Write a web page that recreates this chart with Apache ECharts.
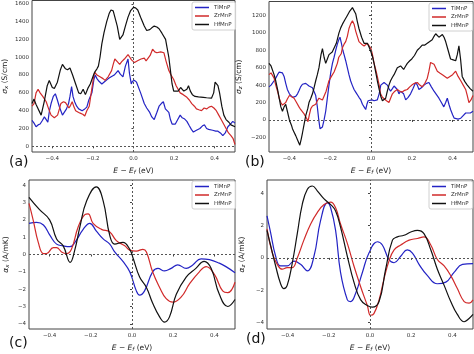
<!DOCTYPE html>
<html>
<head>
<meta charset="utf-8">
<script src="https://cdn.jsdelivr.net/npm/echarts@6/dist/echarts.min.js"></script>
<style>
  html, body { margin: 0; padding: 0; background: #fff; }
  #chart { width: 474px; height: 354px; }
</style>
</head>
<body>
<div id="chart"></div>
<script>
// tick labels
const xTicks = [-0.4, -0.2, 0, 0.2, 0.4];
const yTicksA = [0, 200, 400, 600, 800, 1000, 1200, 1400, 1600];
const yTicksB = [-200, 0, 200, 400, 600, 800, 1000, 1200];
const yTicksC = [-4, -3, -2, -1, 0, 1, 2, 3, 4];
const yTicksD = [-4, -2, 0, 2, 4];
const names = ['TiMnP', 'ZrMnP', 'HfMnP'];

// (a) sigma_x, S/cm  [E - Ef, value]
const aTi = [[-0.5,290],[-0.49,260],[-0.48,220],[-0.47,240],[-0.46,250],[-0.449,290],[-0.439,330],[-0.43,300],[-0.422,270],[-0.414,400],[-0.406,480],[-0.395,560],[-0.385,590],[-0.375,520],[-0.366,450],[-0.358,400],[-0.35,350],[-0.342,330],[-0.33,420],[-0.32,480],[-0.313,560],[-0.305,670],[-0.298,560],[-0.29,500],[-0.28,450],[-0.27,420],[-0.253,400],[-0.24,420],[-0.23,440],[-0.22,520],[-0.205,600],[-0.195,750],[-0.189,800],[-0.18,760],[-0.17,730],[-0.156,700],[-0.14,730],[-0.124,760],[-0.11,780],[-0.095,800],[-0.076,850],[-0.065,810],[-0.052,780],[-0.04,900],[-0.032,950],[-0.027,980],[-0.02,820],[-0.011,700],[-0.005,730],[0.005,740],[0.015,720],[0.021,700],[0.035,600],[0.053,480],[0.065,430],[0.08,380],[0.09,330],[0.102,300],[0.115,380],[0.126,450],[0.137,480],[0.147,500],[0.157,420],[0.166,400],[0.174,380],[0.182,300],[0.19,250],[0.206,250],[0.218,300],[0.23,350],[0.24,320],[0.25,310],[0.263,280],[0.275,230],[0.285,190],[0.295,160],[0.31,180],[0.327,200],[0.34,230],[0.35,240],[0.36,200],[0.37,190],[0.39,180],[0.405,170],[0.416,170],[0.428,150],[0.44,120],[0.452,150],[0.465,220],[0.478,250],[0.489,280],[0.5,260]];
const aZr = [[-0.5,450],[-0.49,480],[-0.48,600],[-0.47,640],[-0.46,600],[-0.447,560],[-0.43,500],[-0.418,420],[-0.406,350],[-0.39,320],[-0.374,350],[-0.365,420],[-0.358,480],[-0.345,500],[-0.335,490],[-0.326,500],[-0.318,430],[-0.31,460],[-0.302,500],[-0.293,440],[-0.285,400],[-0.27,380],[-0.26,370],[-0.25,360],[-0.24,340],[-0.23,400],[-0.218,450],[-0.205,650],[-0.195,800],[-0.19,830],[-0.18,800],[-0.165,780],[-0.15,760],[-0.14,740],[-0.125,780],[-0.108,850],[-0.1,920],[-0.092,980],[-0.08,950],[-0.068,920],[-0.058,950],[-0.045,980],[-0.027,1030],[-0.018,1000],[-0.01,970],[0.005,940],[0.02,960],[0.037,980],[0.045,1000],[0.053,990],[0.062,960],[0.07,960],[0.082,1020],[0.094,1090],[0.105,1060],[0.115,1050],[0.134,1060],[0.15,1050],[0.16,960],[0.174,850],[0.185,800],[0.198,750],[0.21,680],[0.23,600],[0.245,580],[0.263,550],[0.275,520],[0.287,480],[0.3,450],[0.31,420],[0.322,410],[0.335,400],[0.348,430],[0.36,420],[0.372,440],[0.384,450],[0.396,430],[0.408,400],[0.42,350],[0.432,300],[0.444,250],[0.456,200],[0.468,150],[0.48,120],[0.49,90],[0.5,20]];
const aHf = [[-0.5,480],[-0.49,530],[-0.48,470],[-0.455,350],[-0.44,500],[-0.425,680],[-0.415,740],[-0.4,660],[-0.39,650],[-0.375,720],[-0.36,860],[-0.35,920],[-0.335,870],[-0.325,860],[-0.313,880],[-0.3,800],[-0.285,700],[-0.27,600],[-0.26,590],[-0.248,640],[-0.237,580],[-0.225,650],[-0.213,700],[-0.2,780],[-0.192,830],[-0.18,870],[-0.173,900],[-0.165,1000],[-0.156,1150],[-0.145,1280],[-0.132,1400],[-0.12,1490],[-0.111,1530],[-0.1,1520],[-0.092,1500],[-0.08,1350],[-0.068,1200],[-0.06,1220],[-0.052,1250],[-0.04,1350],[-0.027,1450],[-0.015,1520],[0,1560],[0.01,1555],[0.021,1530],[0.035,1450],[0.053,1350],[0.065,1300],[0.08,1310],[0.09,1330],[0.102,1350],[0.115,1340],[0.126,1320],[0.14,1270],[0.158,1200],[0.166,1100],[0.174,1000],[0.182,850],[0.19,700],[0.198,620],[0.206,600],[0.22,620],[0.232,660],[0.239,680],[0.248,620],[0.255,600],[0.263,640],[0.271,680],[0.28,620],[0.29,580],[0.303,560],[0.32,555],[0.344,550],[0.36,545],[0.384,540],[0.395,600],[0.402,720],[0.408,740],[0.416,680],[0.424,600],[0.435,450],[0.445,350],[0.456,300],[0.47,270],[0.48,240],[0.489,230],[0.5,220]];

// (b) sigma_z, S/cm
const bTi = [[-0.5,380],[-0.49,400],[-0.483,420],[-0.475,450],[-0.467,480],[-0.458,520],[-0.45,550],[-0.442,570],[-0.434,540],[-0.426,500],[-0.418,420],[-0.41,350],[-0.4,300],[-0.393,280],[-0.385,260],[-0.377,250],[-0.369,270],[-0.36,300],[-0.352,340],[-0.345,380],[-0.336,410],[-0.328,430],[-0.32,420],[-0.312,400],[-0.304,390],[-0.295,380],[-0.287,370],[-0.279,350],[-0.271,280],[-0.263,150],[-0.256,0],[-0.25,-100],[-0.244,-90],[-0.238,-80],[-0.23,0],[-0.222,100],[-0.214,250],[-0.206,400],[-0.197,550],[-0.189,650],[-0.181,720],[-0.173,800],[-0.165,870],[-0.158,920],[-0.152,950],[-0.145,880],[-0.138,800],[-0.132,750],[-0.124,680],[-0.116,600],[-0.108,520],[-0.1,450],[-0.092,400],[-0.083,350],[-0.075,320],[-0.067,300],[-0.059,260],[-0.05,230],[-0.042,180],[-0.034,150],[-0.026,120],[-0.02,180],[-0.014,220],[-0.005,230],[0.005,230],[0.015,220],[0.023,225],[0.031,230],[0.04,300],[0.048,400],[0.056,420],[0.064,430],[0.072,430],[0.08,400],[0.088,360],[0.096,330],[0.105,360],[0.113,390],[0.121,400],[0.129,350],[0.137,300],[0.145,330],[0.153,350],[0.16,300],[0.17,230],[0.182,260],[0.194,300],[0.206,360],[0.219,430],[0.227,400],[0.235,350],[0.247,370],[0.26,400],[0.272,420],[0.284,430],[0.296,380],[0.309,330],[0.321,290],[0.333,250],[0.345,200],[0.357,150],[0.366,200],[0.374,250],[0.382,180],[0.39,120],[0.4,60],[0.408,20],[0.415,0],[0.427,10],[0.44,20],[0.452,50],[0.464,80],[0.476,80],[0.487,80],[0.5,100]];
const bZr = [[-0.5,520],[-0.49,540],[-0.483,560],[-0.475,480],[-0.467,400],[-0.458,330],[-0.45,250],[-0.442,200],[-0.434,170],[-0.426,180],[-0.418,200],[-0.41,240],[-0.4,280],[-0.39,270],[-0.377,250],[-0.365,200],[-0.353,150],[-0.345,120],[-0.336,100],[-0.328,70],[-0.32,50],[-0.314,10],[-0.309,-20],[-0.302,60],[-0.295,130],[-0.287,160],[-0.279,150],[-0.271,180],[-0.263,220],[-0.255,250],[-0.247,260],[-0.238,230],[-0.23,250],[-0.22,330],[-0.206,450],[-0.194,500],[-0.181,550],[-0.173,600],[-0.165,650],[-0.158,720],[-0.152,700],[-0.146,760],[-0.14,830],[-0.132,870],[-0.124,900],[-0.116,960],[-0.108,1050],[-0.1,1100],[-0.091,1140],[-0.083,1100],[-0.075,1020],[-0.067,960],[-0.059,900],[-0.046,870],[-0.034,850],[-0.026,860],[-0.018,880],[-0.01,860],[0,820],[0.008,740],[0.015,650],[0.023,580],[0.031,500],[0.04,400],[0.047,300],[0.056,260],[0.064,250],[0.076,220],[0.088,200],[0.096,250],[0.105,300],[0.117,330],[0.129,350],[0.141,330],[0.153,320],[0.165,340],[0.178,350],[0.19,380],[0.2,400],[0.213,420],[0.227,430],[0.239,400],[0.251,380],[0.264,420],[0.276,480],[0.284,560],[0.292,660],[0.3,640],[0.309,640],[0.317,600],[0.325,560],[0.337,540],[0.35,520],[0.362,500],[0.374,480],[0.387,500],[0.4,520],[0.407,540],[0.415,560],[0.427,500],[0.44,450],[0.452,400],[0.464,350],[0.472,280],[0.48,200],[0.49,230],[0.5,280]];
const bHf = [[-0.5,650],[-0.49,620],[-0.483,600],[-0.475,520],[-0.467,450],[-0.458,350],[-0.45,250],[-0.442,150],[-0.434,100],[-0.426,150],[-0.418,180],[-0.41,100],[-0.4,0],[-0.39,-60],[-0.385,-100],[-0.377,-140],[-0.369,-180],[-0.36,-230],[-0.349,-290],[-0.342,-220],[-0.336,-150],[-0.328,-50],[-0.32,50],[-0.31,130],[-0.304,200],[-0.295,250],[-0.287,300],[-0.279,370],[-0.271,450],[-0.263,520],[-0.255,600],[-0.245,750],[-0.238,820],[-0.23,720],[-0.222,650],[-0.214,700],[-0.206,750],[-0.19,780],[-0.181,800],[-0.17,880],[-0.157,1000],[-0.148,1060],[-0.14,1100],[-0.128,1150],[-0.116,1200],[-0.104,1250],[-0.091,1290],[-0.083,1270],[-0.075,1220],[-0.067,1130],[-0.059,1050],[-0.046,950],[-0.034,880],[-0.026,860],[-0.018,880],[-0.01,840],[0,780],[0.008,720],[0.015,650],[0.023,550],[0.031,450],[0.04,350],[0.048,270],[0.056,220],[0.064,210],[0.072,250],[0.08,330],[0.088,400],[0.096,450],[0.105,490],[0.113,520],[0.121,560],[0.129,600],[0.137,620],[0.145,620],[0.153,600],[0.16,580],[0.17,620],[0.178,650],[0.19,680],[0.2,700],[0.213,740],[0.227,800],[0.24,830],[0.251,860],[0.264,860],[0.276,880],[0.288,900],[0.3,920],[0.309,960],[0.317,990],[0.325,970],[0.333,950],[0.341,960],[0.35,980],[0.358,950],[0.366,900],[0.378,800],[0.39,700],[0.403,690],[0.415,680],[0.423,750],[0.431,850],[0.439,700],[0.447,500],[0.46,440],[0.472,400],[0.486,360],[0.5,330]];

// (c) alpha_x, A/mK
const cTi = [[-0.5,1.8],[-0.463,1.85],[-0.43,1.7],[-0.398,1.1],[-0.366,0.6],[-0.334,0.5],[-0.302,0.45],[-0.277,0.7],[-0.237,1.45],[-0.205,1.8],[-0.173,1.35],[-0.14,0.9],[-0.108,0.6],[-0.084,0.15],[-0.044,-0.4],[-0.011,-1.0],[0.021,-2.1],[0.037,-2.35],[0.061,-2.1],[0.1,-1.0],[0.126,-0.8],[0.158,-0.95],[0.19,-0.8],[0.222,-0.6],[0.263,-0.8],[0.295,-0.6],[0.335,-0.25],[0.376,-0.3],[0.424,-0.5],[0.456,-0.7],[0.5,-1.05]];
const cZr = [[-0.5,2.95],[-0.48,2.0],[-0.455,0.7],[-0.43,0.05],[-0.415,0.05],[-0.382,0.4],[-0.366,0.4],[-0.342,0.15],[-0.318,0.05],[-0.294,0.3],[-0.261,1.6],[-0.229,2.3],[-0.213,2.35],[-0.189,1.8],[-0.148,1.45],[-0.108,1.3],[-0.076,0.8],[-0.035,0.5],[-0.011,0.25],[0.021,0.2],[0.053,0.3],[0.07,0.15],[0.1,-1.0],[0.134,-1.9],[0.166,-2.55],[0.198,-2.75],[0.239,-2.45],[0.279,-1.7],[0.327,-1.0],[0.36,-0.7],[0.4,-1.15],[0.44,-2.1],[0.465,-2.2],[0.5,-1.6]];
const cHf = [[-0.5,3.3],[-0.45,2.6],[-0.4,2.0],[-0.366,0.9],[-0.334,0.5],[-0.3,-0.45],[-0.277,0.3],[-0.253,1.6],[-0.22,3.1],[-0.173,3.9],[-0.14,3.1],[-0.108,1.1],[-0.084,0.6],[-0.044,0.7],[-0.011,0.3],[0.005,-0.2],[0.037,-1.3],[0.07,-1.9],[0.1,-2.8],[0.134,-3.6],[0.158,-3.9],[0.182,-3.6],[0.215,-2.3],[0.263,-1.3],[0.31,-0.8],[0.35,-0.4],[0.384,-0.8],[0.424,-2.3],[0.465,-3.0],[0.5,-2.6]];

// (d) alpha_z, A/mK
const dTi = [[-0.5,2.6],[-0.483,1.6],[-0.458,0.1],[-0.434,-0.5],[-0.402,-0.5],[-0.369,-0.2],[-0.337,-0.4],[-0.304,-0.8],[-0.272,0.1],[-0.24,2.3],[-0.207,3.4],[-0.191,3.1],[-0.167,1.7],[-0.143,-0.9],[-0.11,-2.6],[-0.094,-2.7],[-0.07,-2.2],[-0.037,-0.9],[-0.005,0.3],[0.036,1.0],[0.06,0.8],[0.092,-0.1],[0.117,-0.3],[0.149,0.1],[0.181,0.5],[0.206,0.3],[0.238,-0.4],[0.279,-1.1],[0.327,-1.6],[0.368,-1.5],[0.408,-0.9],[0.449,-0.4],[0.5,-0.35]];
const dZr = [[-0.5,1.8],[-0.474,0.3],[-0.45,-0.4],[-0.426,-0.7],[-0.402,-0.6],[-0.377,-0.6],[-0.353,0.0],[-0.321,1.1],[-0.288,2.1],[-0.256,2.8],[-0.223,3.3],[-0.191,3.45],[-0.167,3.1],[-0.143,2.1],[-0.11,0.9],[-0.078,-0.5],[-0.045,-1.8],[-0.013,-2.95],[0.003,-3.55],[0.019,-3.45],[0.044,-2.6],[0.068,-1.3],[0.092,-0.2],[0.117,0.5],[0.149,0.8],[0.19,1.1],[0.23,1.2],[0.262,1.3],[0.295,0.8],[0.327,-0.1],[0.36,-0.5],[0.392,-1.1],[0.424,-1.9],[0.457,-2.7],[0.481,-2.8],[0.5,-2.6]];
const dHf = [[-0.5,1.7],[-0.483,0.8],[-0.458,-0.5],[-0.434,-1.6],[-0.418,-1.9],[-0.402,-1.7],[-0.377,-0.3],[-0.353,1.5],[-0.329,3.3],[-0.304,4.25],[-0.28,4.45],[-0.256,4.15],[-0.223,3.65],[-0.191,3.3],[-0.167,2.9],[-0.143,1.9],[-0.11,0.1],[-0.078,-1.5],[-0.045,-2.6],[-0.013,-2.95],[0.011,-3.05],[0.044,-2.7],[0.076,-0.7],[0.109,1.1],[0.133,1.3],[0.165,1.4],[0.198,1.6],[0.23,1.7],[0.262,1.5],[0.295,0.5],[0.327,-0.7],[0.36,-1.7],[0.392,-2.7],[0.424,-3.5],[0.457,-3.95],[0.481,-3.75],[0.5,-3.5]];

const colors = ['#2323c4', '#d12a2a', '#111111'];
const FONT = 'DejaVu Sans';

let chart = echarts.init(document.getElementById('chart'));

// 每个子图的位置
const grids = [
    {left: 29, top: 0.5, width: 206, height: 151.5},
    {left: 269, top: 1.5, width: 204, height: 150.5},
    {left: 29, top: 180, width: 206, height: 153},
    {left: 267, top: 180, width: 206, height: 151.5}
];
const yRanges = [[-64, 1637], [-368, 1360], [-4.3, 4.3], [-4.4, 4.82]];
const yTicks = [yTicksA, yTicksB, yTicksC, yTicksD];
const yNames = ['{i|σ}{s|x} (S/cm)', '{i|σ}{s|z} (S/cm)', '{i|α}{s|x} (A/mK)', '{i|α}{s|z} (A/mK)'];
const yGaps = [22, 25, 18, 20];
const legendPos = [[192, 2], [429, 3], [192, 181], [429, 181]];
const seriesData = [[aTi, aZr, aHf], [bTi, bZr, bHf], [cTi, cZr, cHf], [dTi, dZr, dHf]];

function fmt(v, d) {
    let s = Math.abs(v).toFixed(d);
    return v < 0 ? '\u2212' + s : s;
}

const nameRich = {
    i: {fontStyle: 'italic', fontFamily: FONT, fontSize: 7.5, color: '#222'},
    s: {fontStyle: 'italic', fontFamily: FONT, fontSize: 5.5, color: '#222', padding: [4, 0, 0, 0]},
    n: {fontFamily: FONT, fontSize: 7.5, color: '#222'}
};

let xAxes = [], yAxes = [], series = [], legends = [];
grids.forEach(function (g, k) {
    xAxes.push({
        type: 'value', gridIndex: k, min: -0.5, max: 0.5,
        name: '{i|E} − {i|E}{s|f} (eV)', nameLocation: 'middle', nameGap: 14,
        nameTextStyle: {fontFamily: FONT, fontSize: 7.5, color: '#222', rich: nameRich},
        axisLine: {show: false},
        splitLine: {show: false},
        axisTick: {show: true, inside: false, length: 2, customValues: xTicks, lineStyle: {color: '#444'}},
        axisLabel: {customValues: xTicks, margin: 4, fontSize: 5.5, fontFamily: FONT, color: '#333',
            formatter: function (v) { return fmt(v, 1); }}
    });
    yAxes.push({
        type: 'value', gridIndex: k, min: yRanges[k][0], max: yRanges[k][1],
        name: yNames[k], nameLocation: 'middle', nameGap: yGaps[k],
        nameTextStyle: {fontFamily: FONT, fontSize: 7.5, color: '#222', rich: nameRich},
        axisLine: {show: false},
        splitLine: {show: false},
        axisTick: {show: true, inside: false, length: 2, customValues: yTicks[k], lineStyle: {color: '#444'}},
        axisLabel: {customValues: yTicks[k], margin: 3, fontSize: 5.5, fontFamily: FONT, color: '#333',
            formatter: function (v) { return fmt(v, 0); }}
    });
    seriesData[k].forEach(function (d, j) {
        let s = {
            type: 'line', name: names[j], xAxisIndex: k, yAxisIndex: k,
            data: d, showSymbol: false, symbol: 'none',
            smooth: k >= 2 ? 0.45 : false,
            lineStyle: {color: colors[j], width: 1.2},
            itemStyle: {color: colors[j]},
            animation: false, z: 3 + j
        };
        if (j === 0) {
            s.markLine = {
                silent: true, symbol: 'none', label: {show: false}, animation: false,
                lineStyle: {color: '#555', type: [2, 2], width: 1},
                data: [{xAxis: 0}, {yAxis: 0}]
            };
        }
        series.push(s);
    });
    legends.push({
        orient: 'vertical', left: legendPos[k][0], top: legendPos[k][1],
        data: names, icon: 'rect', itemWidth: 14, itemHeight: 1.5, itemGap: 1.5,
        padding: [2, 4, 2, 3], borderColor: '#d0d0d0', borderWidth: 1, borderRadius: 2,
        backgroundColor: 'rgba(255,255,255,0.85)',
        textStyle: {fontSize: 5.5, fontFamily: FONT, color: '#333', lineHeight: 7}
    });
});

let option = {
    backgroundColor: '#fff',
    animation: false,
    grid: grids.map(function (g) {
        return Object.assign({show: true, borderColor: '#444', borderWidth: 1, backgroundColor: 'transparent'}, g);
    }),
    xAxis: xAxes,
    yAxis: yAxes,
    legend: legends,
    series: series,
    graphic: [
        {type: 'text', left: 9, top: 155, style: {text: '(a)', font: '14px DejaVu Sans', fill: '#111'}},
        {type: 'text', left: 245, top: 155, style: {text: '(b)', font: '14px DejaVu Sans', fill: '#111'}},
        {type: 'text', left: 9, top: 336, style: {text: '(c)', font: '14px DejaVu Sans', fill: '#111'}},
        {type: 'text', left: 246, top: 332, style: {text: '(d)', font: '14px DejaVu Sans', fill: '#111'}}
    ]
};

chart.setOption(option);
</script>
</body>
</html>
